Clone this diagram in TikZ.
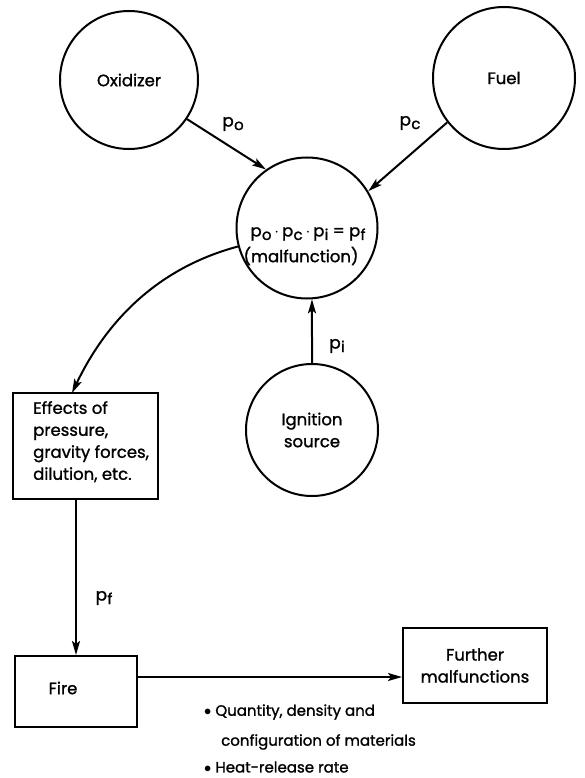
\documentclass[tikz,border=0pt]{standalone}
\usepackage{fontspec}
\setmainfont{Poppins}[FakeBold=1.3]
\usetikzlibrary{arrows.meta}
\newcommand\psb[1]{p\kern0.3pt\lower3.5pt\hbox{\fontsize{15}{15}\selectfont #1}}
\begin{document}
\begin{tikzpicture}[x=1pt,y=-1pt,
  every node/.style={font=\fontsize{16.5}{22}\selectfont},
  ring/.style={circle,draw,line width=2pt,inner sep=0pt},
  boxnode/.style={rectangle,draw,line width=2pt,inner sep=0pt},
  conn/.style={line width=2pt,-{Stealth[length=14pt,width=8pt,inset=3pt]}},
  lab/.style={font=\fontsize{17}{17}\selectfont},
  bul/.style={anchor=west,inner sep=0pt,font=\fontsize{15}{15}\selectfont}]
\useasboundingbox (0,0) rectangle (584,778);
\node[ring,minimum size=138pt] (oxi) at (129,80) {Oxidizer};
\node[ring,minimum size=142pt] (fuel) at (504,78) {Fuel};
\node[ring,minimum size=141pt] (mal) at (307,228) {};
\node (eq) at (308,234) {\psb{o}$\,\cdot\,$\psb{c}$\,\cdot\,$\psb{i} = \psb{f}};
\node (mf) at (301,256) {(malfunction)};
\node[ring,minimum size=132pt,align=center] (ign) at (312,430) {Ignition\\source};
\node[boxnode,minimum width=145pt,minimum height=106pt] (eff) at (85.5,446) {};
\node[anchor=north west,align=left,inner sep=0pt] (efft) at (33,401) {Effects of\\pressure,\\gravity forces,\\dilution, etc.};
\node[boxnode,minimum width=122pt,minimum height=71pt] (fire) at (76,691.5) {};
\node (firet) at (63,688) {Fire};
\node[boxnode,minimum width=144pt,minimum height=75pt,align=center] (fur) at (475,665.5) {Further\\malfunctions};
\coordinate (fireout) at (137,677);
\coordinate (effin) at (72,393);
\node[lab] (po) at (233,124) {\psb{o}};
\node[lab] (pc) at (410,123) {\psb{c}};
\node[lab] (pi) at (337,346) {\psb{i}};
\node[lab] (pf) at (104,598) {\psb{f}};
\draw[conn] (oxi.-34) -- (mal.125);
\draw[conn] (fuel.-142) -- (mal.31);
\draw[conn] (ign.north) -- (mal.-86);
\draw[conn] (mal.195) .. controls (150,270) and (102,330) .. (effin);
\draw[conn] (eff.south -| fire.north) -- (fire.north);
\draw[conn] (fireout) -- (fireout -| fur.west);
\node[bul] (b1) at (204,712) {$\bullet$\ Quantity, density and};
\node[bul] (b2) at (221,742) {configuration of materials};
\node[bul] (b3) at (204,767) {$\bullet$\ Heat-release rate};
\end{tikzpicture}
\end{document}
